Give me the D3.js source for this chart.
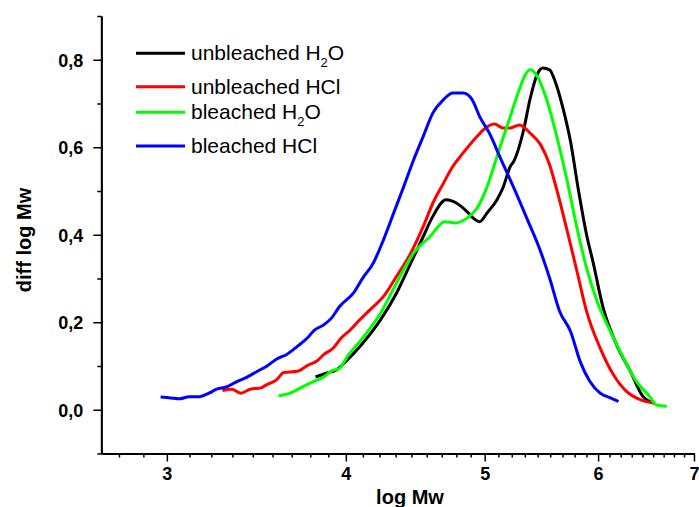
<!DOCTYPE html>
<html>
<head>
<meta charset="utf-8">
<script src="https://cdn.jsdelivr.net/npm/d3@7"></script>
<style>
  html, body { margin: 0; padding: 0; background: #fff; }
  svg { display: block; font-family: "Liberation Sans", Arial, sans-serif; }
</style>
</head>
<body>
<svg id="chart" width="699" height="507"></svg>
<script>
// ---- Data ----
const seriesNames = ["unbleached H2O", "unbleached HCl", "bleached H2O", "bleached HCl"];
const seriesColors = ["#000000", "#ff0000", "#00ff00", "#0000ff"];

const unbleachedH2O_x = [3.81,3.88,3.94,4.01,4.11,4.23,4.34,4.44,4.53,4.60,4.70,4.78,4.86,4.91,4.96,5.02,5.10,5.15,5.21,5.24,5.32,5.38,5.44,5.49,5.55,5.61,5.67,5.74,5.81,5.89,5.95,6.05,6.18,6.32,6.45,6.57];
const unbleachedH2O_y = [0.075,0.084,0.091,0.114,0.152,0.206,0.267,0.335,0.396,0.442,0.480,0.472,0.453,0.438,0.430,0.450,0.480,0.508,0.556,0.568,0.636,0.712,0.766,0.781,0.777,0.743,0.690,0.613,0.507,0.400,0.339,0.232,0.149,0.088,0.030,0.015];

const unbleachedHCl_x = [3.28,3.33,3.38,3.43,3.49,3.52,3.58,3.62,3.70,3.76,3.82,3.86,3.92,3.97,4.03,4.07,4.16,4.25,4.34,4.44,4.53,4.60,4.68,4.75,4.83,4.94,4.99,5.08,5.15,5.21,5.29,5.38,5.47,5.55,5.61,5.71,5.80,5.89,6.02,6.15,6.28,6.42,6.57];
const unbleachedHCl_y = [0.044,0.047,0.038,0.047,0.050,0.057,0.069,0.085,0.088,0.101,0.112,0.126,0.141,0.164,0.183,0.198,0.229,0.259,0.305,0.358,0.419,0.472,0.518,0.556,0.587,0.625,0.640,0.653,0.644,0.644,0.651,0.632,0.606,0.560,0.507,0.408,0.316,0.225,0.141,0.080,0.042,0.023,0.015];

const bleachedH2O_x = [3.59,3.65,3.72,3.80,3.86,3.91,3.96,4.01,4.11,4.23,4.34,4.46,4.58,4.69,4.77,4.86,4.94,5.02,5.10,5.15,5.21,5.26,5.38,5.45,5.52,5.61,5.71,5.80,5.89,5.99,6.12,6.25,6.38,6.52,6.59,6.70];
const bleachedH2O_y = [0.032,0.037,0.050,0.065,0.075,0.089,0.095,0.122,0.164,0.221,0.290,0.358,0.396,0.430,0.427,0.438,0.461,0.510,0.579,0.621,0.670,0.712,0.777,0.758,0.712,0.629,0.522,0.415,0.324,0.248,0.179,0.118,0.065,0.030,0.011,0.008];

const bleachedHCl_x = [2.97,3.02,3.06,3.11,3.16,3.21,3.25,3.30,3.36,3.41,3.47,3.52,3.58,3.64,3.70,3.76,3.80,3.86,3.91,3.96,4.05,4.11,4.18,4.25,4.32,4.39,4.46,4.53,4.60,4.68,4.75,4.83,4.90,4.96,5.04,5.13,5.24,5.35,5.47,5.55,5.64,5.74,5.83,5.92,6.02,6.12,6.20];
const bleachedHCl_y = [0.029,0.027,0.025,0.030,0.030,0.038,0.047,0.052,0.065,0.074,0.088,0.099,0.116,0.127,0.145,0.164,0.181,0.194,0.210,0.236,0.267,0.301,0.335,0.389,0.450,0.510,0.571,0.625,0.678,0.709,0.724,0.724,0.709,0.670,0.631,0.574,0.507,0.438,0.362,0.301,0.225,0.179,0.110,0.065,0.038,0.027,0.019];

const xMajorTicks = [3, 4, 5, 6, 7];
const xMinorPerMajor = 8;
const yMajorTicks = [0, 0.2, 0.4, 0.6, 0.8];
const yMinorTicks = [-0.1, 0.1, 0.3, 0.5, 0.7, 0.9];
const xDomain = [2.7, 7];
const yDomain = [-0.1, 0.9];
const xTitle = "log Mw";
const yTitle = "diff log Mw";

// ---- Chart ----
const svg = d3.select("#chart");
const plotLeft = 101.3, plotRight = 694, plotTop = 16, plotBottom = 453.5;

const x = d3.scaleLog().domain(xDomain).range([plotLeft, plotRight]);
const y = d3.scaleLinear().domain(yDomain).range([plotBottom, plotTop]);

// minor x ticks: 8 evenly spaced (in data units) between majors
const xMinorTicks = [];
for (let m = 2; m < 7; m++) {
  for (let k = 1; k <= xMinorPerMajor; k++) {
    const v = m + k / (xMinorPerMajor + 1);
    if (v >= xDomain[0] && v <= xDomain[1]) xMinorTicks.push(v);
  }
}

const fmtY = v => d3.format(".1f")(v).replace(".", ",");
const axisStroke = 1.8;

// Y axis
const yMinorG = svg.append("g").attr("transform", `translate(${plotLeft},0)`)
  .call(d3.axisLeft(y).tickValues(yMinorTicks).tickSize(4).tickSizeOuter(0).tickFormat(""));
const yMajorG = svg.append("g").attr("transform", `translate(${plotLeft},0)`)
  .call(d3.axisLeft(y).tickValues(yMajorTicks).tickSize(8).tickSizeOuter(0).tickPadding(10).tickFormat(fmtY));

// X axis
const xMinorG = svg.append("g").attr("transform", `translate(0,${plotBottom})`)
  .call(d3.axisBottom(x).tickValues(xMinorTicks).tickSize(4).tickSizeOuter(0).tickFormat(""));
const xMajorG = svg.append("g").attr("transform", `translate(0,${plotBottom})`)
  .call(d3.axisBottom(x).tickValues(xMajorTicks).tickSize(8).tickSizeOuter(0).tickPadding(6).tickFormat(d3.format("d")));

[yMinorG, yMajorG, xMinorG, xMajorG].forEach(g => {
  g.selectAll("path.domain").attr("stroke", "#000").attr("stroke-width", axisStroke);
  g.selectAll(".tick line").attr("stroke", "#000").attr("stroke-width", 1.5);
});
yMajorG.selectAll(".tick text")
  .attr("font-size", 18).attr("font-weight", "bold").attr("fill", "#000")
  .attr("font-family", "'Liberation Sans', Arial, sans-serif")
  .attr("dy", "0.36em");
xMajorG.selectAll(".tick text")
  .attr("font-size", 18).attr("font-weight", "bold").attr("fill", "#000")
  .attr("font-family", "'Liberation Sans', Arial, sans-serif")
  .attr("dy", "0.71em");

// Axis titles
svg.append("text")
  .attr("transform", "translate(31,240) rotate(-90)")
  .attr("text-anchor", "middle")
  .attr("font-size", 20).attr("font-weight", "bold")
  .text(yTitle);
svg.append("text")
  .attr("x", 410).attr("y", 504)
  .attr("text-anchor", "middle")
  .attr("font-size", 20).attr("font-weight", "bold")
  .text(xTitle);

// Curves
const seriesX = [unbleachedH2O_x, unbleachedHCl_x, bleachedH2O_x, bleachedHCl_x];
const seriesY = [unbleachedH2O_y, unbleachedHCl_y, bleachedH2O_y, bleachedHCl_y];
const line = d3.line().x(d => x(d[0])).y(d => y(d[1])).curve(d3.curveMonotoneX);

seriesX.forEach((xs, i) => {
  const pts = xs.map((v, j) => [v, seriesY[i][j]]);
  svg.append("path")
    .datum(pts)
    .attr("d", line)
    .attr("fill", "none")
    .attr("stroke", seriesColors[i])
    .attr("stroke-width", 3)
    .attr("stroke-linejoin", "round");
});

// Legend
const legendRowsY = [53.3, 86.7, 112.3, 146];
const legend = svg.append("g");
seriesNames.forEach((name, i) => {
  const ly = legendRowsY[i];
  legend.append("line")
    .attr("x1", 136).attr("x2", 185)
    .attr("y1", ly).attr("y2", ly)
    .attr("stroke", seriesColors[i]).attr("stroke-width", 3);
  const t = legend.append("text")
    .attr("x", 191).attr("y", ly + 7)
    .attr("font-size", 21).attr("fill", "#000");
  const m = name.match(/^(.*H)2(O)$/);
  if (m) {
    t.append("tspan").text(m[1]);
    t.append("tspan").attr("font-size", 13).attr("dy", 7).text("2");
    t.append("tspan").attr("dy", -7).text(m[2]);
  } else {
    t.text(name);
  }
});
</script>
</body>
</html>
